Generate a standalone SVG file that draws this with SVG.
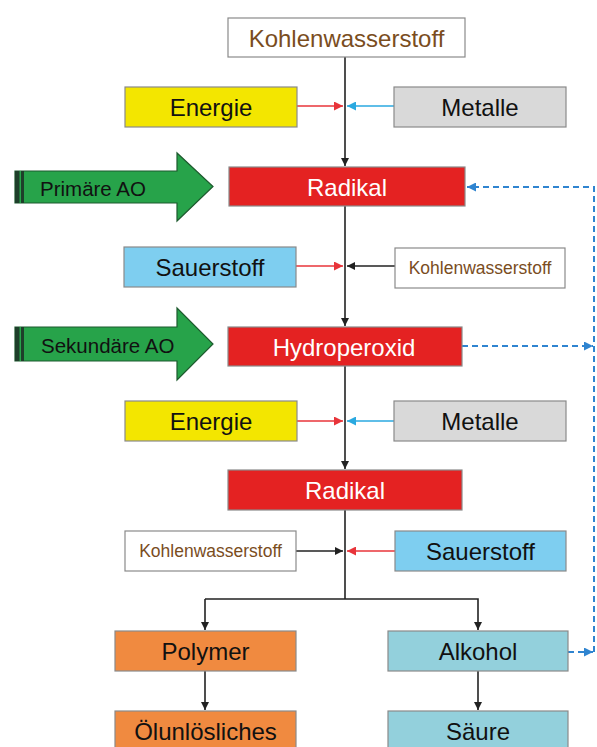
<svg xmlns="http://www.w3.org/2000/svg" width="597" height="747" viewBox="0 0 597 747">
<defs>
<style>
.box{stroke:#8a8a8a;stroke-width:1.2}
.t{font-family:"Liberation Sans",Arial,sans-serif;text-anchor:middle;dominant-baseline:central}
.big{font-size:24px;fill:#111}
.kw{fill:#7a4d1e}
.wt{fill:#fff;font-size:24px}
.aot{font-family:"Liberation Sans",Arial,sans-serif;font-size:20.5px;fill:#111;dominant-baseline:central}
.ln{fill:none;stroke-width:1.6}
.blk{stroke:#222}
.red{stroke:#e8343a}
.cy{stroke:#2aa9e0}
.dash{fill:none;stroke:#2f84d0;stroke-width:2;stroke-dasharray:6,4}
.ao{fill:#27a34a;stroke:#1d5a2e;stroke-width:1.2}
</style>
<marker id="mb" viewBox="0 0 10 10" refX="10" refY="5" markerWidth="8" markerHeight="8" markerUnits="userSpaceOnUse" orient="auto"><path d="M0,0L10,5L0,10z" fill="#222"/></marker>
<marker id="mr" viewBox="0 0 10 10" refX="10" refY="5" markerWidth="9" markerHeight="9" markerUnits="userSpaceOnUse" orient="auto"><path d="M0,0L10,5L0,10z" fill="#e8343a"/></marker>
<marker id="mc" viewBox="0 0 10 10" refX="10" refY="5" markerWidth="9" markerHeight="9" markerUnits="userSpaceOnUse" orient="auto"><path d="M0,0L10,5L0,10z" fill="#2aa9e0"/></marker>
<marker id="md" viewBox="0 0 10 10" refX="10" refY="5" markerWidth="9" markerHeight="9" markerUnits="userSpaceOnUse" orient="auto"><path d="M0,0L10,5L0,10z" fill="#2f84d0"/></marker>
</defs>
<rect width="597" height="747" fill="#fff"/>

<g id="connectors">
<line class="ln blk" x1="345" y1="57" x2="345" y2="166" marker-end="url(#mb)"/>
<line class="ln red" x1="297" y1="106" x2="343" y2="106" marker-end="url(#mr)"/>
<line class="ln cy" x1="394" y1="106" x2="347" y2="106" marker-end="url(#mc)"/>
<line class="ln blk" x1="345" y1="206" x2="345" y2="326" marker-end="url(#mb)"/>
<line class="ln red" x1="296" y1="266" x2="343" y2="266" marker-end="url(#mr)"/>
<line class="ln blk" x1="395" y1="266" x2="347" y2="266" marker-end="url(#mb)"/>
<line class="ln blk" x1="345" y1="366" x2="345" y2="469" marker-end="url(#mb)"/>
<line class="ln red" x1="297" y1="421" x2="343" y2="421" marker-end="url(#mr)"/>
<line class="ln cy" x1="394" y1="421" x2="347" y2="421" marker-end="url(#mc)"/>
<polyline class="ln blk" points="345,510 345,599"/>
<line class="ln blk" x1="296" y1="551" x2="343" y2="551" marker-end="url(#mb)"/>
<line class="ln red" x1="395" y1="551" x2="347" y2="551" marker-end="url(#mr)"/>
<polyline class="ln blk" points="205,599 478,599 478,630" marker-end="url(#mb)"/>
<line class="ln blk" x1="205" y1="599" x2="205" y2="630" marker-end="url(#mb)"/>
<line class="ln blk" x1="205" y1="671" x2="205" y2="710" marker-end="url(#mb)"/>
<line class="ln blk" x1="478" y1="671" x2="478" y2="710" marker-end="url(#mb)"/>
<line class="dash" x1="462" y1="346" x2="593" y2="346" marker-end="url(#md)"/>
<line class="dash" x1="568" y1="652" x2="593" y2="652" marker-end="url(#md)"/>
<polyline class="dash" points="594,652 594,187 467,187" marker-end="url(#md)"/>
</g>

<g id="kws-top"><rect class="box" x="228" y="18" width="237" height="39" fill="#fff"/><text class="t kw" x="346.5" y="38" font-size="24">Kohlenwasserstoff</text></g>
<g id="energie1"><rect class="box" x="125" y="87" width="172" height="40" fill="#f3e600"/><text class="t big" x="211" y="107">Energie</text></g>
<g id="metalle1"><rect class="box" x="394" y="87" width="172" height="40" fill="#d9d9d9"/><text class="t big" x="480" y="107">Metalle</text></g>

<g id="primaere-ao">
<path class="ao" d="M15,171H177V153L213,186.5L177,221V203H15Z"/>
<rect x="15" y="171" width="9" height="32" fill="#1e3f2a"/>
<rect x="19.5" y="171" width="1.5" height="32" fill="#27a34a"/>
<text class="aot" x="40" y="188">Primäre AO</text>
</g>
<g id="radikal1"><rect class="box" x="229" y="167" width="236" height="39" fill="#e42222"/><text class="t wt" x="347" y="187">Radikal</text></g>

<g id="sauerstoff1"><rect class="box" x="124" y="247" width="172" height="40" fill="#7ecef0"/><text class="t big" x="210" y="267">Sauerstoff</text></g>
<g id="kws-small1"><rect class="box" x="395" y="248" width="170" height="40" fill="#fff"/><text class="t kw" x="480" y="268" font-size="17.5">Kohlenwasserstoff</text></g>

<g id="sekundaere-ao">
<path class="ao" d="M15,327H177V308L213,344L177,380V361H15Z"/>
<rect x="15" y="327" width="9" height="34" fill="#1e3f2a"/>
<rect x="19.5" y="327" width="1.5" height="34" fill="#27a34a"/>
<text class="aot" x="41" y="345">Sekundäre AO</text>
</g>
<g id="hydroperoxid"><rect class="box" x="228" y="327" width="234" height="39" fill="#e42222"/><text class="t wt" x="344" y="347">Hydroperoxid</text></g>

<g id="energie2"><rect class="box" x="125" y="401" width="172" height="40" fill="#f3e600"/><text class="t big" x="211" y="421">Energie</text></g>
<g id="metalle2"><rect class="box" x="394" y="401" width="172" height="40" fill="#d9d9d9"/><text class="t big" x="480" y="421">Metalle</text></g>

<g id="radikal2"><rect class="box" x="228" y="470" width="234" height="40" fill="#e42222"/><text class="t wt" x="345" y="490">Radikal</text></g>

<g id="kws-small2"><rect class="box" x="125" y="531" width="171" height="40" fill="#fff"/><text class="t kw" x="210.5" y="551" font-size="17.5">Kohlenwasserstoff</text></g>
<g id="sauerstoff2"><rect class="box" x="395" y="531" width="171" height="40" fill="#7ecef0"/><text class="t big" x="480.5" y="551">Sauerstoff</text></g>

<g id="polymer"><rect class="box" x="115" y="631" width="181" height="40" fill="#f08a40"/><text class="t big" x="205.5" y="651">Polymer</text></g>
<g id="alkohol"><rect class="box" x="388" y="631" width="180" height="40" fill="#93d0dc"/><text class="t big" x="478" y="651">Alkohol</text></g>
<g id="oelunloesliches"><rect class="box" x="115" y="711" width="181" height="40" fill="#f08a40"/><text class="t big" x="205.5" y="731">Ölunlösliches</text></g>
<g id="saeure"><rect class="box" x="388" y="711" width="180" height="40" fill="#93d0dc"/><text class="t big" x="478" y="731">Säure</text></g>
</svg>
